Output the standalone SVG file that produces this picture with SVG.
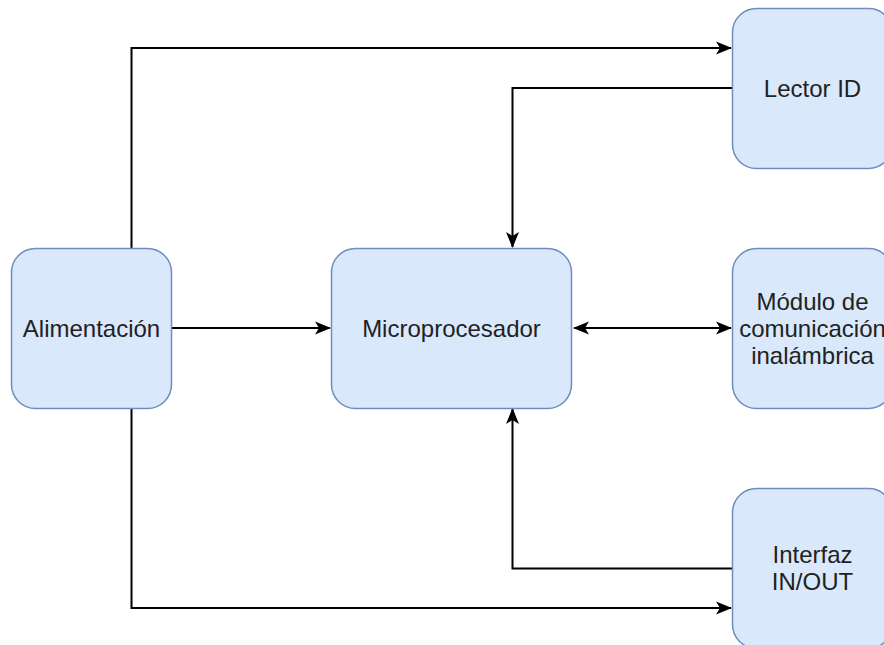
<svg xmlns="http://www.w3.org/2000/svg" width="884" height="645" viewBox="0 0 884 645">
  <style>
    .box { fill: #dae8fc; stroke: #6c8ebf; stroke-width: 1.5; }
    .lbl { font-family: "Liberation Sans", Arial, sans-serif; font-size: 24px; fill: #222; text-anchor: middle; }
    .edge { fill: none; stroke: #000; stroke-width: 2; }
  </style>
  <defs>
    <marker id="arr" markerUnits="userSpaceOnUse" markerWidth="16" markerHeight="14" viewBox="0 0 16 14" refX="15" refY="7" orient="auto-start-reverse">
      <path d="M0,0.5 L16,7 L0,13.5 L4,7 Z" fill="#000"/>
    </marker>
  </defs>
  <rect x="0" y="0" width="884" height="645" fill="#fff"/>

  <g id="connectors">
    <path class="edge" d="M131.5,248 V48 H731" marker-end="url(#arr)"/>
    <path class="edge" d="M131.5,408 V608 H731" marker-end="url(#arr)"/>
    <path class="edge" d="M172,328 H330" marker-end="url(#arr)"/>
    <path class="edge" d="M732,88 H512.5 V247" marker-end="url(#arr)"/>
    <path class="edge" d="M732,568.5 H512.5 V409" marker-end="url(#arr)"/>
    <path class="edge" d="M574,328 H731" marker-start="url(#arr)" marker-end="url(#arr)"/>
  </g>

  <g id="alimentacion">
    <rect class="box" x="11.5" y="248.5" width="160" height="160" rx="24" ry="24"/>
    <text class="lbl" x="91.5" y="336.5">Alimentación</text>
  </g>
  <g id="microprocesador">
    <rect class="box" x="331.5" y="248.5" width="240" height="160" rx="24" ry="24"/>
    <text class="lbl" x="451.5" y="336.5">Microprocesador</text>
  </g>
  <g id="lector">
    <rect class="box" x="732.5" y="8.5" width="160" height="160" rx="24" ry="24"/>
    <text class="lbl" x="812.5" y="96.5">Lector ID</text>
  </g>
  <g id="modulo">
    <rect class="box" x="732.5" y="248.5" width="160" height="160" rx="24" ry="24"/>
    <text class="lbl" x="812.5" y="310">Módulo de</text>
    <text class="lbl" x="812.5" y="337">comunicación</text>
    <text class="lbl" x="812.5" y="364">inalámbrica</text>
  </g>
  <g id="interfaz">
    <rect class="box" x="732.5" y="488.5" width="160" height="160" rx="24" ry="24"/>
    <text class="lbl" x="812.5" y="563">Interfaz</text>
    <text class="lbl" x="812.5" y="590">IN/OUT</text>
  </g>
</svg>
